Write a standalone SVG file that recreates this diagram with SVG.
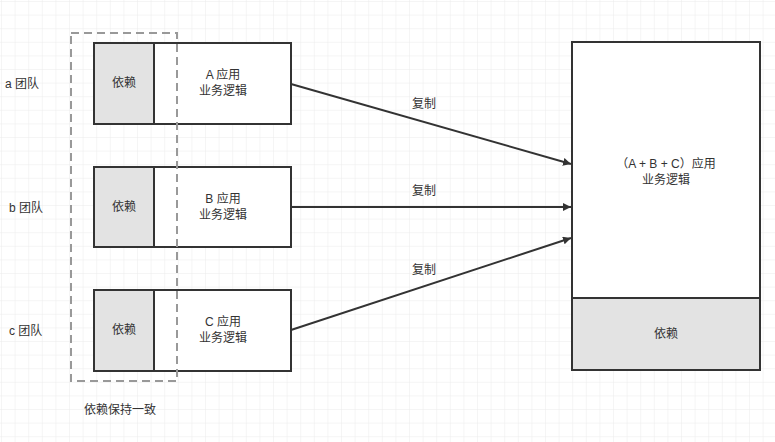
<svg xmlns="http://www.w3.org/2000/svg" width="775" height="442" viewBox="0 0 775 442">
<style>
text{font-family:"Liberation Sans","Noto Sans CJK SC",sans-serif;font-size:12px;fill:#333;text-anchor:middle;dominant-baseline:central}
.l{text-anchor:start}
.box{fill:#fff;stroke:#333;stroke-width:2}
.dep{fill:#e3e3e3;stroke:#333;stroke-width:2}
.c{stroke:#333;stroke-width:2;fill:none;marker-end:url(#ah)}
</style>
<defs>
<pattern id="g" width="13.6" height="13.6" patternUnits="userSpaceOnUse" x="2" y="2">
<path d="M13.6 0V13.6M0 13.6H13.6" fill="none" stroke="#ebebeb" stroke-width="1"/>
</pattern>
<marker id="ah" viewBox="0 0 10 10" refX="10" refY="5" markerWidth="8" markerHeight="8" orient="auto" markerUnits="userSpaceOnUse"><path d="M0 0L10 5L0 10z" fill="#333"/></marker>
</defs>
<rect width="775" height="442" fill="#fff"/>
<rect width="775" height="442" fill="url(#g)"/>
<g id="teamA"><rect class="box" x="94" y="43" width="197" height="81"/><rect class="dep" x="94" y="43" width="60" height="81"/><text x="124" y="83">依赖</text><text x="223" y="75">A 应用</text><text x="223" y="91">业务逻辑</text></g>
<g id="teamB"><rect class="box" x="94" y="167" width="197" height="80"/><rect class="dep" x="94" y="167" width="60" height="80"/><text x="124" y="207">依赖</text><text x="223" y="199">B 应用</text><text x="223" y="215">业务逻辑</text></g>
<g id="teamC"><rect class="box" x="94" y="290" width="197" height="81"/><rect class="dep" x="94" y="290" width="60" height="81"/><text x="124" y="330">依赖</text><text x="223" y="322">C 应用</text><text x="223" y="338">业务逻辑</text></g>
<g id="merged"><rect class="box" x="572" y="42" width="188" height="328"/><rect class="dep" x="572" y="298" width="188" height="72"/><text x="666" y="164">（A + B + C）应用</text><text x="666" y="180">业务逻辑</text><text x="666" y="334">依赖</text></g>
<g id="group"><rect x="71" y="33" width="106" height="348" fill="none" stroke="#999" stroke-width="2" stroke-dasharray="8 5"/><text x="120" y="410">依赖保持一致</text></g>
<g id="labels"><text class="l" x="5" y="84">a 团队</text><text class="l" x="9" y="208">b 团队</text><text class="l" x="9" y="331">c 团队</text></g>
<g id="connectors">
<line class="c" x1="291" y1="84" x2="571" y2="164"/>
<line class="c" x1="291" y1="207" x2="571" y2="207"/>
<line class="c" x1="291" y1="330" x2="571" y2="238"/>
<text x="424" y="104">复制</text><text x="424" y="191">复制</text><text x="424" y="270">复制</text>
</g>
</svg>
